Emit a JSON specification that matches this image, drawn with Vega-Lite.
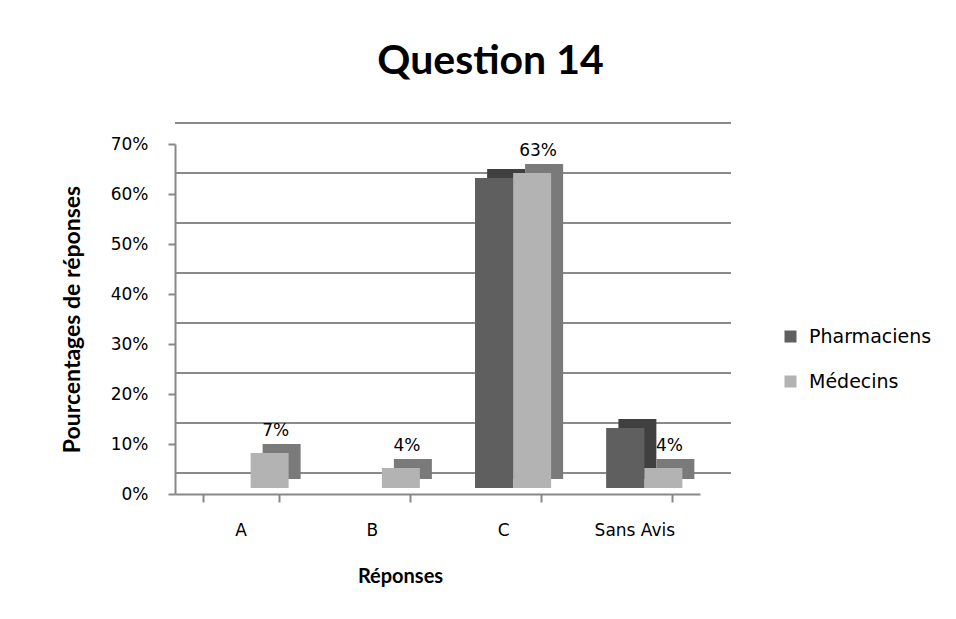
{
  "$schema": "https://vega.github.io/schema/vega-lite/v6.json",
  "width": 525,
  "height": 350,
  "autosize": "none",
  "padding": {"left": 175, "top": 144, "right": 256, "bottom": 125},
  "background": "white",
  "title": {
    "text": "Question 14",
    "font": "Lato",
    "fontSize": 41,
    "fontWeight": "bold",
    "color": "#000000",
    "anchor": "middle",
    "dx": 53,
    "offset": 39
  },
  "datasets": {
    "bars": [
      {"reponse": "A", "groupe": "Pharmaciens", "valeur": 0.0, "label": ""},
      {"reponse": "A", "groupe": "Médecins", "valeur": 0.07, "label": "7%"},
      {"reponse": "B", "groupe": "Pharmaciens", "valeur": 0.0, "label": ""},
      {"reponse": "B", "groupe": "Médecins", "valeur": 0.04, "label": "4%"},
      {"reponse": "C", "groupe": "Pharmaciens", "valeur": 0.62, "label": ""},
      {"reponse": "C", "groupe": "Médecins", "valeur": 0.63, "label": "63%"},
      {"reponse": "Sans Avis", "groupe": "Pharmaciens", "valeur": 0.12, "label": ""},
      {"reponse": "Sans Avis", "groupe": "Médecins", "valeur": 0.04, "label": "4%"}
    ],
    "grille": [
      {"niveau": 0.0}, {"niveau": 0.1}, {"niveau": 0.2}, {"niveau": 0.3},
      {"niveau": 0.4}, {"niveau": 0.5}, {"niveau": 0.6}, {"niveau": 0.7}
    ]
  },
  "data": {"name": "bars"},
  "layer": [
    {
      "transform": [{"filter": "datum.groupe == 'Pharmaciens'"}],
      "mark": {"type": "bar", "width": 38, "xOffset": -9, "yOffset": -6},
      "encoding": {
        "x": {
          "field": "reponse",
          "type": "nominal",
          "sort": ["A", "B", "C", "Sans Avis"],
          "scale": {"paddingInner": 0.42, "paddingOuter": 0.21},
          "axis": {
            "title": "Réponses",
            "titleFont": "Lato",
            "titleFontSize": 20,
            "titleFontWeight": "bold",
            "titleColor": "#000000",
            "titlePadding": 28,
            "titleX": 225,
            "titleAlign": "center",
            "labelAngle": 0,
            "labelFont": "DejaVu Sans",
            "labelFontSize": 17,
            "labelColor": "#000000",
            "labelPadding": 20,
            "tickBand": "extent",
            "tickSize": 8,
            "tickColor": "#888888",
            "tickWidth": 2,
            "domainColor": "#888888",
            "domainWidth": 2,
            "grid": false
          }
        },
        "y": {
          "field": "valeur",
          "type": "quantitative",
          "scale": {"domain": [0, 0.7]},
          "axis": {
            "title": "Pourcentages de réponses",
            "titleFont": "Lato",
            "titleFontSize": 23,
            "titleFontWeight": "bold",
            "titleColor": "#000000",
            "titlePadding": 26,
            "format": ".0%",
            "values": [0, 0.1, 0.2, 0.3, 0.4, 0.5, 0.6, 0.7],
            "labelFont": "DejaVu Sans",
            "labelFontSize": 17,
            "labelColor": "#000000",
            "labelPadding": 20,
            "tickSize": 7,
            "tickColor": "#888888",
            "tickWidth": 2,
            "domainColor": "#888888",
            "domainWidth": 2,
            "grid": false
          }
        },
        "fill": {
          "field": "groupe",
          "type": "nominal",
          "scale": {"domain": ["Pharmaciens", "Médecins"], "range": ["#5f5f5f", "#b3b3b3"]},
          "legend": {
            "title": null,
            "orient": "none",
            "legendX": 606,
            "legendY": 183,
            "symbolType": "square",
            "symbolSize": 144,
            "symbolStrokeWidth": 0,
            "labelFont": "DejaVu Sans",
            "labelFontSize": 19,
            "labelColor": "#000000",
            "rowPadding": 25,
            "labelOffset": 9
          }
        }
      }
    },
    {
      "data": {"name": "grille"},
      "mark": {"type": "rule", "color": "#8a8a8a", "strokeWidth": 2, "xOffset": 31, "x2Offset": 35, "yOffset": -21},
      "encoding": {
        "y": {"field": "niveau", "type": "quantitative"}
      }
    },
    {
      "transform": [{"filter": "datum.groupe == 'Pharmaciens'"}],
      "mark": {"type": "bar", "width": 38, "xOffset": 3, "yOffset": -15, "fill": "#404040"},
      "encoding": {
        "x": {"field": "reponse", "type": "nominal", "sort": ["A", "B", "C", "Sans Avis"]},
        "y": {"field": "valeur", "type": "quantitative"}
      }
    },
    {
      "transform": [{"filter": "datum.groupe == 'Médecins'"}],
      "mark": {"type": "bar", "width": 38, "xOffset": 41, "yOffset": -15, "fill": "#7a7a7a"},
      "encoding": {
        "x": {"field": "reponse", "type": "nominal", "sort": ["A", "B", "C", "Sans Avis"]},
        "y": {"field": "valeur", "type": "quantitative"}
      }
    },
    {
      "transform": [{"filter": "datum.groupe == 'Pharmaciens'"}],
      "mark": {"type": "bar", "width": 38, "xOffset": -9, "yOffset": -6},
      "encoding": {
        "x": {"field": "reponse", "type": "nominal", "sort": ["A", "B", "C", "Sans Avis"]},
        "y": {"field": "valeur", "type": "quantitative"},
        "fill": {"field": "groupe", "type": "nominal"}
      }
    },
    {
      "transform": [{"filter": "datum.groupe == 'Médecins'"}],
      "mark": {"type": "bar", "width": 38, "xOffset": 29, "yOffset": -6},
      "encoding": {
        "x": {"field": "reponse", "type": "nominal", "sort": ["A", "B", "C", "Sans Avis"]},
        "y": {"field": "valeur", "type": "quantitative"},
        "fill": {"field": "groupe", "type": "nominal"}
      }
    },
    {
      "transform": [{"filter": "datum.label != ''"}],
      "mark": {"type": "text", "font": "DejaVu Sans", "fontSize": 17, "fill": "#000000", "baseline": "alphabetic", "xOffset": 35, "dy": -23},
      "encoding": {
        "x": {"field": "reponse", "type": "nominal", "sort": ["A", "B", "C", "Sans Avis"]},
        "y": {"field": "valeur", "type": "quantitative"},
        "text": {"field": "label"}
      }
    }
  ],
  "config": {"view": {"stroke": null}}
}
